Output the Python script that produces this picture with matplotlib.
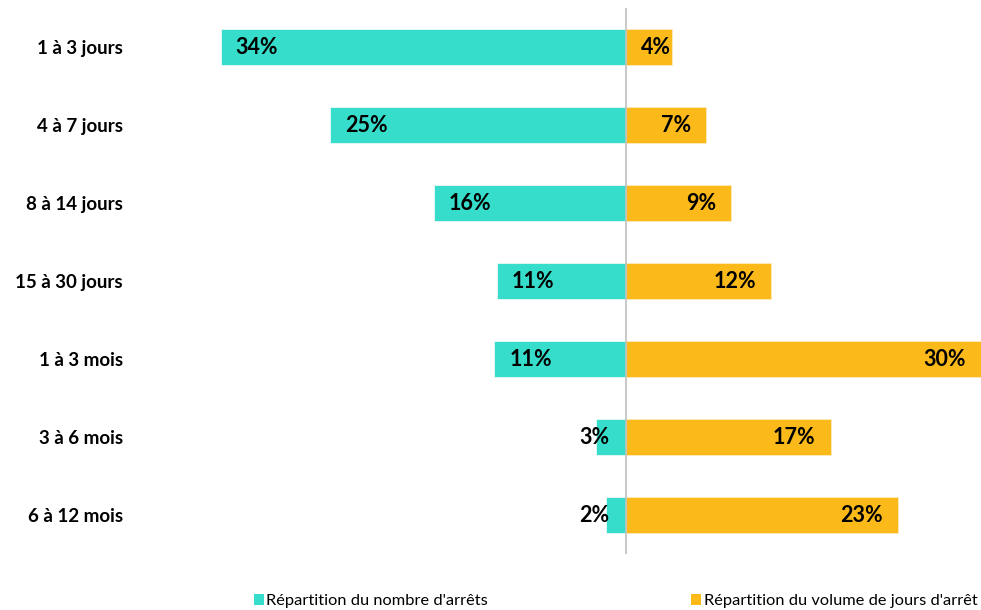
import matplotlib
matplotlib.use("Agg")
import matplotlib.pyplot as plt
from matplotlib.patches import Patch

plt.rcParams["font.family"] = ["Lato", "DejaVu Sans"]

# données
categories = ["1 à 3 jours", "4 à 7 jours", "8 à 14 jours", "15 à 30 jours",
              "1 à 3 mois", "3 à 6 mois", "6 à 12 mois"]
nb_arrets = [34.2, 25.0, 16.2, 10.9, 11.1, 2.5, 1.7]
nb_arrets_lbl = ["34%", "25%", "16%", "11%", "11%", "3%", "2%"]
vol_jours = [3.9, 6.75, 8.9, 12.3, 30.0, 17.3, 23.0]
vol_jours_lbl = ["4%", "7%", "9%", "12%", "30%", "17%", "23%"]
legend_labels = ["Répartition du nombre d'arrêts",
                 "Répartition du volume de jours d'arrêt"]

C_LEFT = "#36DDCB"
C_RIGHT = "#FBB91A"
PX = 0.72  # 1 px en points (dpi 100)

fig = plt.figure(figsize=(9.81, 6.10), dpi=100)
ax = fig.add_axes([152 / 981, 56 / 610, 829 / 981, 546 / 610])

y = list(range(len(categories)))
ax.barh(y, [-v for v in nb_arrets], height=0.47, color=C_LEFT,
        edgecolor="#E8F8F6", linewidth=0.6, zorder=2)
ax.barh(y, vol_jours, height=0.47, color=C_RIGHT,
        edgecolor="#FDEBC0", linewidth=0.6, zorder=2)
ax.axvline(0, color="#BFBFBF", lw=1.2, zorder=3)

lbl_kw = dict(fontsize=15.5, fontweight="bold", color="black",
              textcoords="offset points", va="center", zorder=4)
for yi, v, t in zip(y, nb_arrets, nb_arrets_lbl):
    if v < 5:
        ax.annotate(t, (0, yi), xytext=(-16 * PX, 0), ha="right", **lbl_kw)
    else:
        ax.annotate(t, (-v, yi), xytext=(15 * PX, 0), ha="left", **lbl_kw)
for yi, v, t in zip(y, vol_jours, vol_jours_lbl):
    off = -1 if v < 5 else -15
    ax.annotate(t, (v, yi), xytext=(off * PX, 0), ha="right", **lbl_kw)

ax.set_xlim(-40, 30)
ax.set_ylim(len(categories) - 0.5, -0.5)
ax.set_xticks([])
ax.set_yticks(y)
ax.set_yticklabels(categories, fontsize=13.5, fontweight="bold")
ax.tick_params(axis="y", length=0, pad=29 * PX)
for s in ax.spines.values():
    s.set_visible(False)

handles = [Patch(facecolor=C_LEFT), Patch(facecolor=C_RIGHT)]
fig.legend(handles, legend_labels, loc="lower right",
           bbox_to_anchor=(0.998, 0.0), ncol=2, frameon=False,
           fontsize=11.8, handlelength=0.6, handleheight=0.6,
           handletextpad=0.15, columnspacing=12.4,
           borderaxespad=0, borderpad=0.1)

fig.savefig("out.png", dpi=100)
